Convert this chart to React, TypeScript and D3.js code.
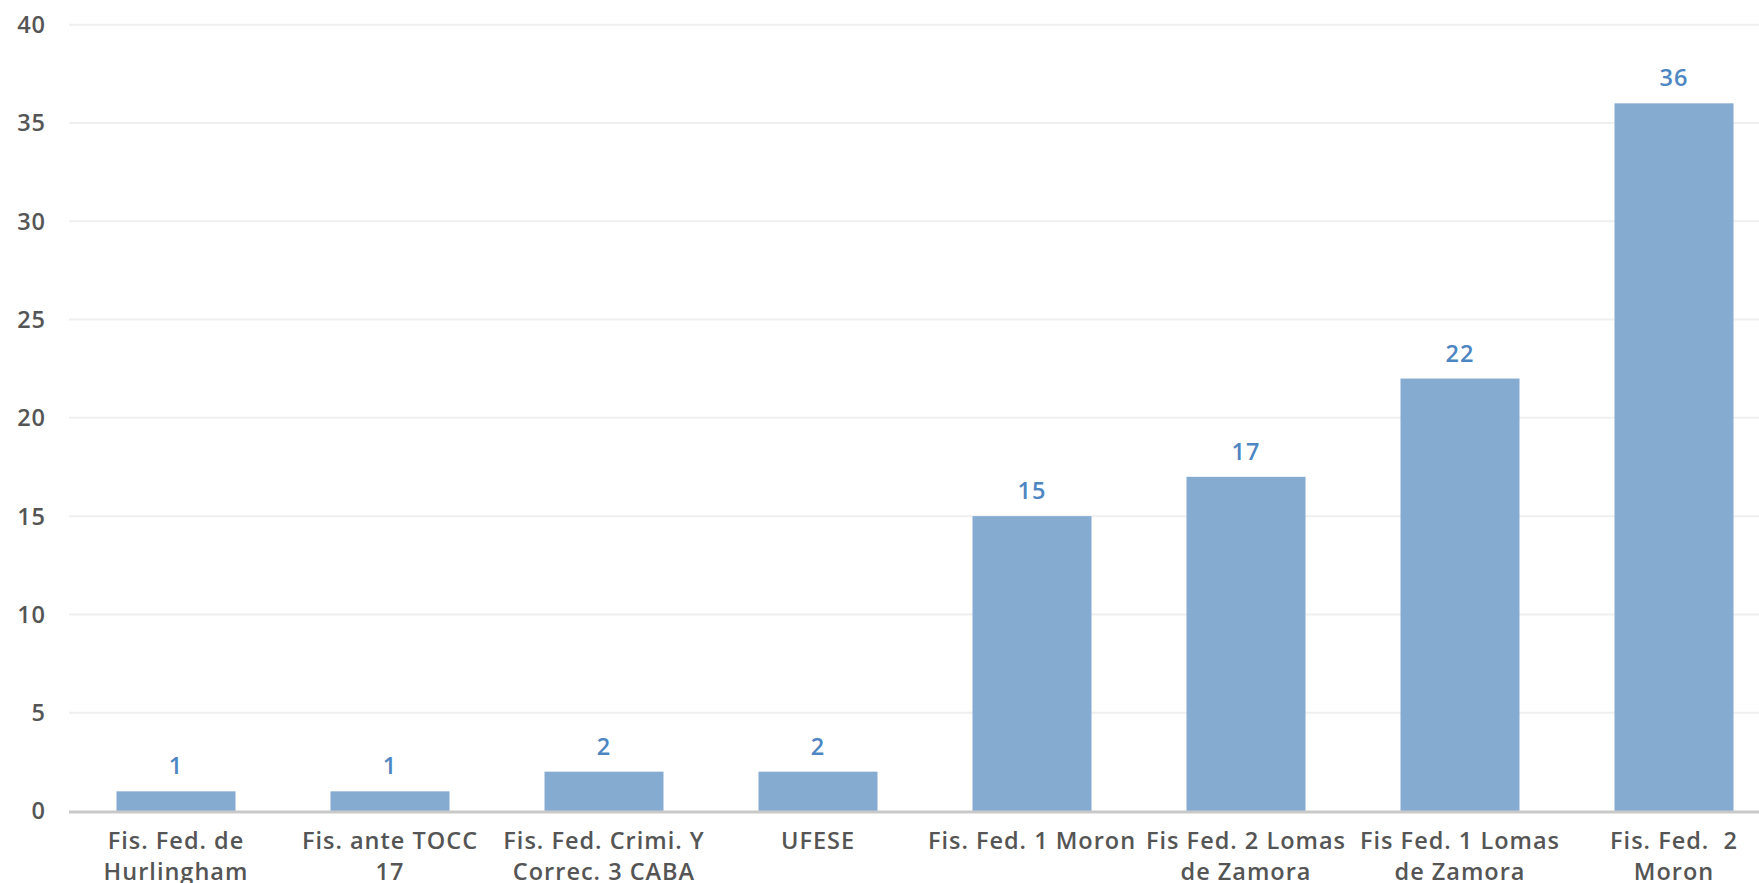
import { useEffect, useRef } from 'react';
import * as d3 from 'd3';

// categories (line breaks as in the original axis)
const categories = [
  'Fis. Fed. de\nHurlingham',
  'Fis. ante TOCC\n17',
  'Fis. Fed. Crimi. Y\nCorrec. 3 CABA',
  'UFESE',
  'Fis. Fed. 1 Moron',
  'Fis Fed. 2 Lomas\nde Zamora',
  'Fis Fed. 1 Lomas\nde Zamora',
  'Fis. Fed.  2\nMoron',
];
const values = [1, 1, 2, 2, 15, 17, 22, 36];
const yTicks = [0, 5, 10, 15, 20, 25, 30, 35, 40];

const FONT = '"Open Sans", "DejaVu Sans", sans-serif';

export default function App() {
  const svgRef = useRef<SVGSVGElement>(null);

  useEffect(() => {
    if (!svgRef.current) return;
    const svg = d3.select(svgRef.current);
    svg.selectAll('*').remove();

    const width = 1759;
    const height = 883;
    const left = 69;
    const right = 1781; // chart continues past the cropped edge
    const top = 24.7;
    const bottom = 811;

    const x = d3
      .scaleBand<string>()
      .domain(categories)
      .range([left, right])
      .paddingInner(0.444)
      .paddingOuter(0.222);
    const y = d3.scaleLinear().domain([0, 40]).range([bottom, top]);

    const textStyle = (sel: any, color: string) =>
      sel
        .style('font-family', FONT)
        .style('font-size', '23.5px')
        .style('font-weight', 600)
        .style('letter-spacing', '1px')
        .style('fill', color);

    // gridlines
    svg
      .append('g')
      .selectAll('line')
      .data(yTicks.filter((t) => t > 0))
      .enter()
      .append('line')
      .attr('x1', left)
      .attr('x2', width)
      .attr('y1', (d) => y(d))
      .attr('y2', (d) => y(d))
      .attr('stroke', '#efefef')
      .attr('stroke-width', 2);

    // y tick labels
    svg
      .append('g')
      .selectAll('text')
      .data(yTicks)
      .enter()
      .append('text')
      .attr('x', 46)
      .attr('y', (d) => y(d))
      .attr('dy', '0.36em')
      .attr('text-anchor', 'end')
      .call(textStyle, '#555555')
      .text((d) => d);

    // bars
    svg
      .append('g')
      .selectAll('rect')
      .data(values)
      .enter()
      .append('rect')
      .attr('x', (d, i) => x(categories[i]) || 0)
      .attr('y', (d) => y(d))
      .attr('width', x.bandwidth())
      .attr('height', (d) => bottom - y(d))
      .attr('fill', '#85abd0');

    // baseline
    svg
      .append('line')
      .attr('x1', left)
      .attr('x2', width)
      .attr('y1', bottom + 1)
      .attr('y2', bottom + 1)
      .attr('stroke', '#c9c9c9')
      .attr('stroke-width', 3);

    // value labels
    svg
      .append('g')
      .selectAll('text')
      .data(values)
      .enter()
      .append('text')
      .attr('x', (d, i) => (x(categories[i]) || 0) + x.bandwidth() / 2)
      .attr('y', (d) => y(d) - 17)
      .attr('text-anchor', 'middle')
      .call(textStyle, '#4d86c2')
      .text((d) => d);

    // category labels
    const cats = svg.append('g');
    categories.forEach((c) => {
      const cx = (x(c) || 0) + x.bandwidth() / 2;
      const t = cats
        .append('text')
        .attr('x', cx)
        .attr('y', 849)
        .attr('text-anchor', 'middle')
        .attr('xml:space', 'preserve')
        .style('white-space', 'pre')
        .call(textStyle, '#555555');
      c.split('\n').forEach((line, j) => {
        t.append('tspan')
          .attr('x', cx)
          .attr('dy', j === 0 ? 0 : 31)
          .text(line);
      });
    });

    svg.attr('width', width).attr('height', height);
  }, []);

  return (
    <div style={{ position: 'absolute', left: 0, top: 0, background: '#fff' }}>
      <svg ref={svgRef} width={1759} height={883} style={{ display: 'block' }} />
    </div>
  );
}
